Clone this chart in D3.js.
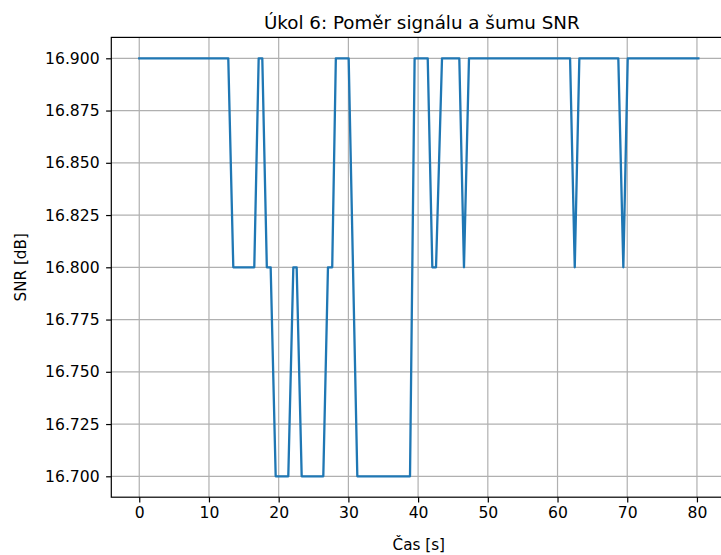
<!DOCTYPE html>
<html>
<head>
<meta charset="utf-8">
<script src="https://cdn.jsdelivr.net/npm/d3@7"></script>
<style>
  html, body { margin: 0; padding: 0; background: #fff; }
  svg { display: block; font-family: "DejaVu Sans", sans-serif; }
</style>
</head>
<body>
<svg id="chart" width="721" height="555"></svg>
<script>
// SNR measurement: time stamps (s) at the points where the level changes, and the SNR (dB) there
const timeSec = [0, 12.77, 13.49, 16.5, 17.13, 17.65, 18.3, 18.85, 19.57, 21.38, 22.1, 22.58, 23.3,
  26.4, 27.07, 27.68, 28.2, 30.04, 31.28, 38.84, 39.5, 41.38, 42.04, 42.57, 43.43, 45.91, 46.58,
  47.3, 61.8, 62.47, 63.13, 68.72, 69.44, 70.07, 80.2];
const snrDb = [16.9, 16.9, 16.8, 16.8, 16.9, 16.9, 16.8, 16.8, 16.7, 16.7, 16.8, 16.8, 16.7,
  16.7, 16.8, 16.8, 16.9, 16.9, 16.7, 16.7, 16.9, 16.9, 16.8, 16.8, 16.9, 16.9, 16.8,
  16.9, 16.9, 16.8, 16.9, 16.9, 16.8, 16.9, 16.9];
const xTicks = [0, 10, 20, 30, 40, 50, 60, 70, 80];
const yTicks = [16.7, 16.725, 16.75, 16.775, 16.8, 16.825, 16.85, 16.875, 16.9];

const titleText = "Úkol 6: Poměr signálu a šumu SNR";
const xLabel = "Čas [s]";
const yLabel = "SNR [dB]";

const points = timeSec.map((t, i) => ({ t, v: snrDb[i] }));

const svg = d3.select("#chart");
const box = { left: 111.3, right: 726.3, top: 37.4, bottom: 497.2 };

// axis limits padded by 5% of the data range
const [tMin, tMax] = d3.extent(timeSec);
const [vMin, vMax] = d3.extent(snrDb);
const tPad = (tMax - tMin) * 0.05, vPad = (vMax - vMin) * 0.05;

const x = d3.scaleLinear().domain([tMin - tPad, tMax + tPad]).range([box.left, box.right]);
const y = d3.scaleLinear().domain([vMin - vPad, vMax + vPad]).range([box.bottom, box.top]);

const gridColor = "#b0b0b0";
const tickFont = "15.6px";

// grid
const grid = svg.append("g");
grid.selectAll("line.gx").data(xTicks).join("line")
  .attr("x1", d => x(d)).attr("x2", d => x(d))
  .attr("y1", box.top).attr("y2", box.bottom)
  .attr("stroke", gridColor).attr("stroke-width", 1.2);
grid.selectAll("line.gy").data(yTicks).join("line")
  .attr("x1", box.left).attr("x2", box.right)
  .attr("y1", d => y(d)).attr("y2", d => y(d))
  .attr("stroke", gridColor).attr("stroke-width", 1.2);

// series
const line = d3.line().x(d => x(d.t)).y(d => y(d.v));
svg.append("path").datum(points)
  .attr("d", line)
  .attr("fill", "none")
  .attr("stroke", "#1f77b4")
  .attr("stroke-width", 2.3)
  .attr("stroke-linejoin", "round")
  .attr("stroke-linecap", "square");

// frame
svg.append("rect")
  .attr("x", box.left).attr("y", box.top)
  .attr("width", box.right - box.left).attr("height", box.bottom - box.top)
  .attr("fill", "none").attr("stroke", "#000").attr("stroke-width", 1.2);

// axes
const xAxis = d3.axisBottom(x).tickValues(xTicks).tickFormat(d3.format("d"))
  .tickSize(5.2).tickPadding(4.6);
const yAxis = d3.axisLeft(y).tickValues(yTicks).tickFormat(d3.format(".3f"))
  .tickSize(5.2).tickPadding(6.5);

const gx = svg.append("g").attr("transform", `translate(0,${box.bottom})`).call(xAxis);
const gy = svg.append("g").attr("transform", `translate(${box.left},0)`).call(yAxis);
[gx, gy].forEach(g => {
  g.select(".domain").remove();
  g.selectAll(".tick line").attr("stroke", "#000").attr("stroke-width", 1.2);
  g.selectAll(".tick text").attr("fill", "#000")
    .style("font-family", "'DejaVu Sans', sans-serif").style("font-size", tickFont);
});

// labels
const midX = (box.left + box.right) / 2;
svg.append("text")
  .attr("x", midX + 3).attr("y", 28.5)
  .attr("text-anchor", "middle")
  .style("font-size", "18.3px")
  .text(titleText);

svg.append("text")
  .attr("x", midX).attr("y", 550)
  .attr("text-anchor", "middle")
  .style("font-size", "15.2px")
  .text(xLabel);

svg.append("text")
  .attr("transform", `translate(26,${(box.top + box.bottom) / 2}) rotate(-90)`)
  .attr("text-anchor", "middle")
  .style("font-size", "15.2px")
  .text(yLabel);
</script>
</body>
</html>
